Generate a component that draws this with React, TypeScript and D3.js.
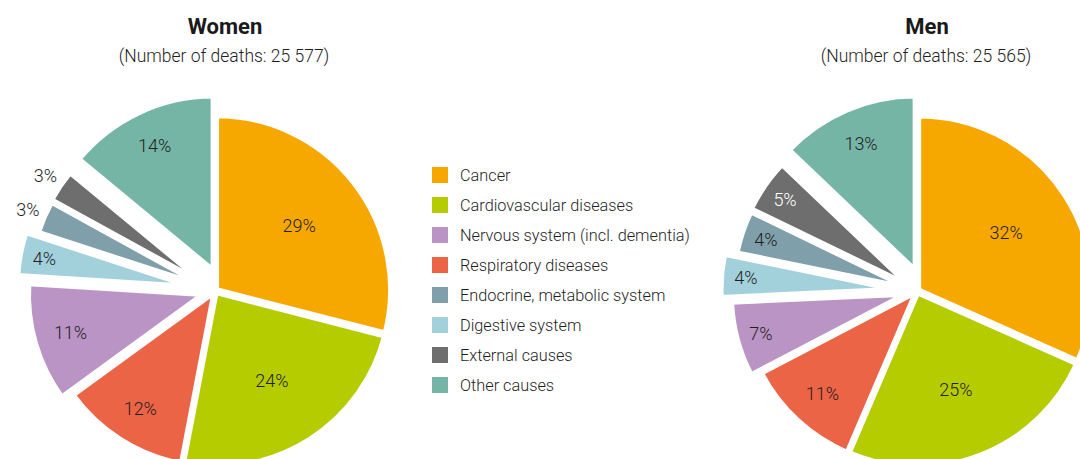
import * as d3 from 'd3';

// slice order around each pie (clockwise from 12 o'clock)
const sliceCauses = [
  'Cancer',
  'Cardiovascular diseases',
  'Respiratory diseases',
  'Nervous system (incl. dementia)',
  'Digestive system',
  'Endocrine, metabolic system',
  'External causes',
  'Other causes',
];
const womenValues = [29, 24, 12, 11, 4, 3, 3, 14];
const menValues = [32, 25, 11, 7, 4, 4, 5, 13];

const legendCauses = [
  'Cancer',
  'Cardiovascular diseases',
  'Nervous system (incl. dementia)',
  'Respiratory diseases',
  'Endocrine, metabolic system',
  'Digestive system',
  'External causes',
  'Other causes',
];

const colors: Record<string, string> = {
  'Cancer': '#F7A800',
  'Cardiovascular diseases': '#B5CC00',
  'Nervous system (incl. dementia)': '#BA94C4',
  'Respiratory diseases': '#EC6446',
  'Endocrine, metabolic system': '#7F9FAA',
  'Digestive system': '#A3D1DB',
  'External causes': '#6E6E6E',
  'Other causes': '#75B5A5',
};

const FONT = 'Roboto, "Open Sans", sans-serif';
const TEXT = '#1f1f1f';
const R = 174;

type PieProps = {
  cx: number;
  cy: number;
  title: string;
  subtitle: string;
  values: number[];
  explode: number[];
  tilt: number[];
  whiteLabel?: string;
};

const Pie = ({ cx, cy, title, subtitle, values, explode, tilt, whiteLabel }: PieProps) => {
  const pie = d3.pie<number>().sort(null).value(d => d);
  const arcs = pie(values);
  const arc = d3.arc<d3.PieArcDatum<number>>().innerRadius(0).outerRadius(R);

  return (
    <g>
      <text x={cx + 10} y={34} textAnchor="middle" fontFamily={FONT} fontWeight={700}
        fontSize={22} fill="#1a1a1a">{title}</text>
      <text x={cx + 9} y={62} textAnchor="middle" fontFamily={FONT} fontWeight={300}
        fontSize={17.5} fill={TEXT}>{subtitle}</text>
      <g transform={`translate(${cx},${cy})`}>
        {arcs.map((a, i) => {
          const mid = (a.startAngle + a.endAngle) / 2;
          const d = explode[i];
          // direction the slice is pulled out in (bisector, slightly turned for some)
          const dir = mid + (tilt[i] * Math.PI) / 180;
          const ox = Math.sin(dir) * d;
          const oy = -Math.cos(dir) * d;
          const pct = a.data;
          let lr: number;
          if (pct >= 20) lr = R * 0.6;
          else if (pct >= 10) lr = R * 0.79;
          else if (pct >= 3.5) lr = R * 0.86;
          else lr = R + 18;
          const inside = pct >= 3.5;
          const lx = ox + Math.sin(mid) * lr;
          const ly = oy - Math.cos(mid) * lr;
          const cause = sliceCauses[i];
          return (
            <g key={cause}>
              <path d={arc(a) || ''} transform={`translate(${ox},${oy})`}
                fill={colors[cause]} stroke="#fff" strokeWidth={5} strokeLinejoin="miter" />
              <text x={lx} y={ly} dy="0.35em" textAnchor="middle" fontFamily={FONT}
                fontWeight={300} fontSize={18}
                fill={inside && whiteLabel === cause ? '#fff' : TEXT}>
                {`${pct}%`}
              </text>
            </g>
          );
        })}
      </g>
    </g>
  );
};

const Legend = ({ x, y }: { x: number; y: number }) => {
  const rowY = d3.scalePoint<string>().domain(legendCauses).range([0, 210]);
  return (
    <g transform={`translate(${x},${y})`}>
      {legendCauses.map(c => (
        <g key={c} transform={`translate(0,${rowY(c)})`}>
          <rect x={0} y={-8} width={16} height={16} fill={colors[c]} />
          <text x={28} y={0} dy="0.35em" fontFamily={FONT} fontWeight={300} fontSize={16.3}
            fill={TEXT}>{c}</text>
        </g>
      ))}
    </g>
  );
};

export default function App() {
  return (
    <svg width={1080} height={459} style={{ position: 'absolute', left: 0, top: 0, background: '#fff' }}>
      <Pie cx={215} cy={291} title="Women" subtitle="(Number of deaths: 25 577)"
        values={womenValues} explode={[2, 2, 2, 13, 24, 12, 13, 21]}
        tilt={[0, 0, 0, 0, 0, 0, 0, 20]} />
      <Pie cx={917} cy={291} title="Men" subtitle="(Number of deaths: 25 565)"
        values={menValues} explode={[2, 2, 2, 12, 22, 10, 11, 21]}
        tilt={[0, 0, 0, 0, 0, 0, 0, 18]} whiteLabel="External causes" />
      <Legend x={432} y={175} />
    </svg>
  );
}
